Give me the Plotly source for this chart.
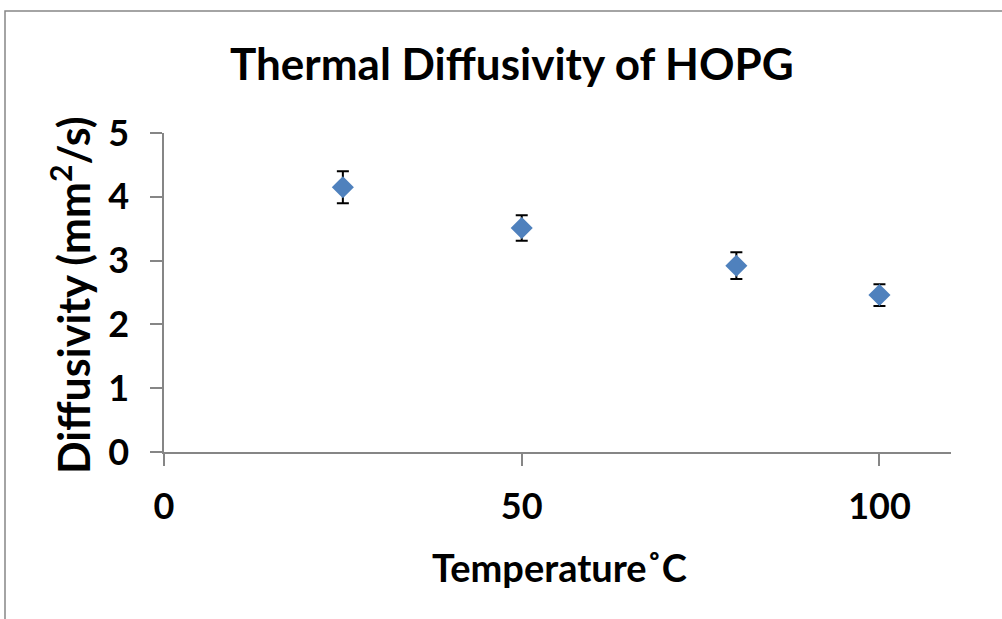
import plotly.graph_objects as go

temperature = [25, 50, 80, 100]
diffusivity = [4.15, 3.51, 2.92, 2.46]
error = [0.25, 0.20, 0.21, 0.17]
x_ticks = [0, 50, 100]
y_ticks = [0, 1, 2, 3, 4, 5]

W, H = 1002, 619
L, R, T, B = 164, 51, 133, 167
pw, ph = W - L - R, H - T - B

def px(x):
    return (x - L) / pw

def py(y):
    return (H - B - y) / ph

FONT = "Lato"

fig = go.Figure()
fig.add_trace(go.Scatter(
    x=temperature, y=diffusivity, mode="markers",
    marker=dict(symbol="diamond", size=17, color="#4F81BD", line=dict(width=0)),
    error_y=dict(type="data", array=error, visible=True, color="black", thickness=2, width=6),
    showlegend=False, hoverinfo="skip",
))

axis_font = dict(family=FONT, size=36, color="black", weight="bold")
fig.update_layout(
    width=W, height=H,
    margin=dict(l=L, r=R, t=T, b=B),
    plot_bgcolor="white", paper_bgcolor="white",
    xaxis=dict(range=[0, 110], tickvals=x_ticks, showgrid=False, zeroline=False,
               showline=True, linecolor="#868686", linewidth=1.5,
               ticks="outside", ticklen=12, tickcolor="#868686", tickwidth=1.5,
               tickfont=axis_font, ticklabelstandoff=10),
    yaxis=dict(range=[0, 5], tickvals=y_ticks, showgrid=False, zeroline=False,
               showline=True, linecolor="#868686", linewidth=1.5,
               ticks="outside", ticklen=12, tickcolor="#868686", tickwidth=1.5,
               tickfont=axis_font, ticklabelstandoff=14),
    font=dict(family=FONT, color="black"),
)

fig.add_annotation(text="<b>Thermal Diffusivity of HOPG</b>", xref="paper", yref="paper",
                   x=px(512), y=py(63), showarrow=False, font=dict(family=FONT, size=44, color="black"),
                   xanchor="center", yanchor="middle")
fig.add_annotation(text="<b>Temperature˚C</b>", xref="paper", yref="paper",
                   x=px(559), y=py(567), showarrow=False, font=dict(family=FONT, size=38, color="black"),
                   xanchor="center", yanchor="middle")
fig.add_annotation(text="<b>Diffusivity (mm<sup>2</sup>/s)</b>", xref="paper", yref="paper",
                   x=px(70), y=py(295), showarrow=False, textangle=-90,
                   font=dict(family=FONT, size=43, color="black"),
                   xanchor="center", yanchor="middle")

fig.add_shape(type="rect", xref="paper", yref="paper",
              x0=px(5), x1=px(1030), y0=py(650), y1=py(11),
              line=dict(color="#868686", width=1.5), fillcolor="rgba(0,0,0,0)", layer="below")

fig.write_html("out.html", config={"displayModeBar": False},
               post_script="document.body.style.margin='0px';document.body.style.padding='0px';")
